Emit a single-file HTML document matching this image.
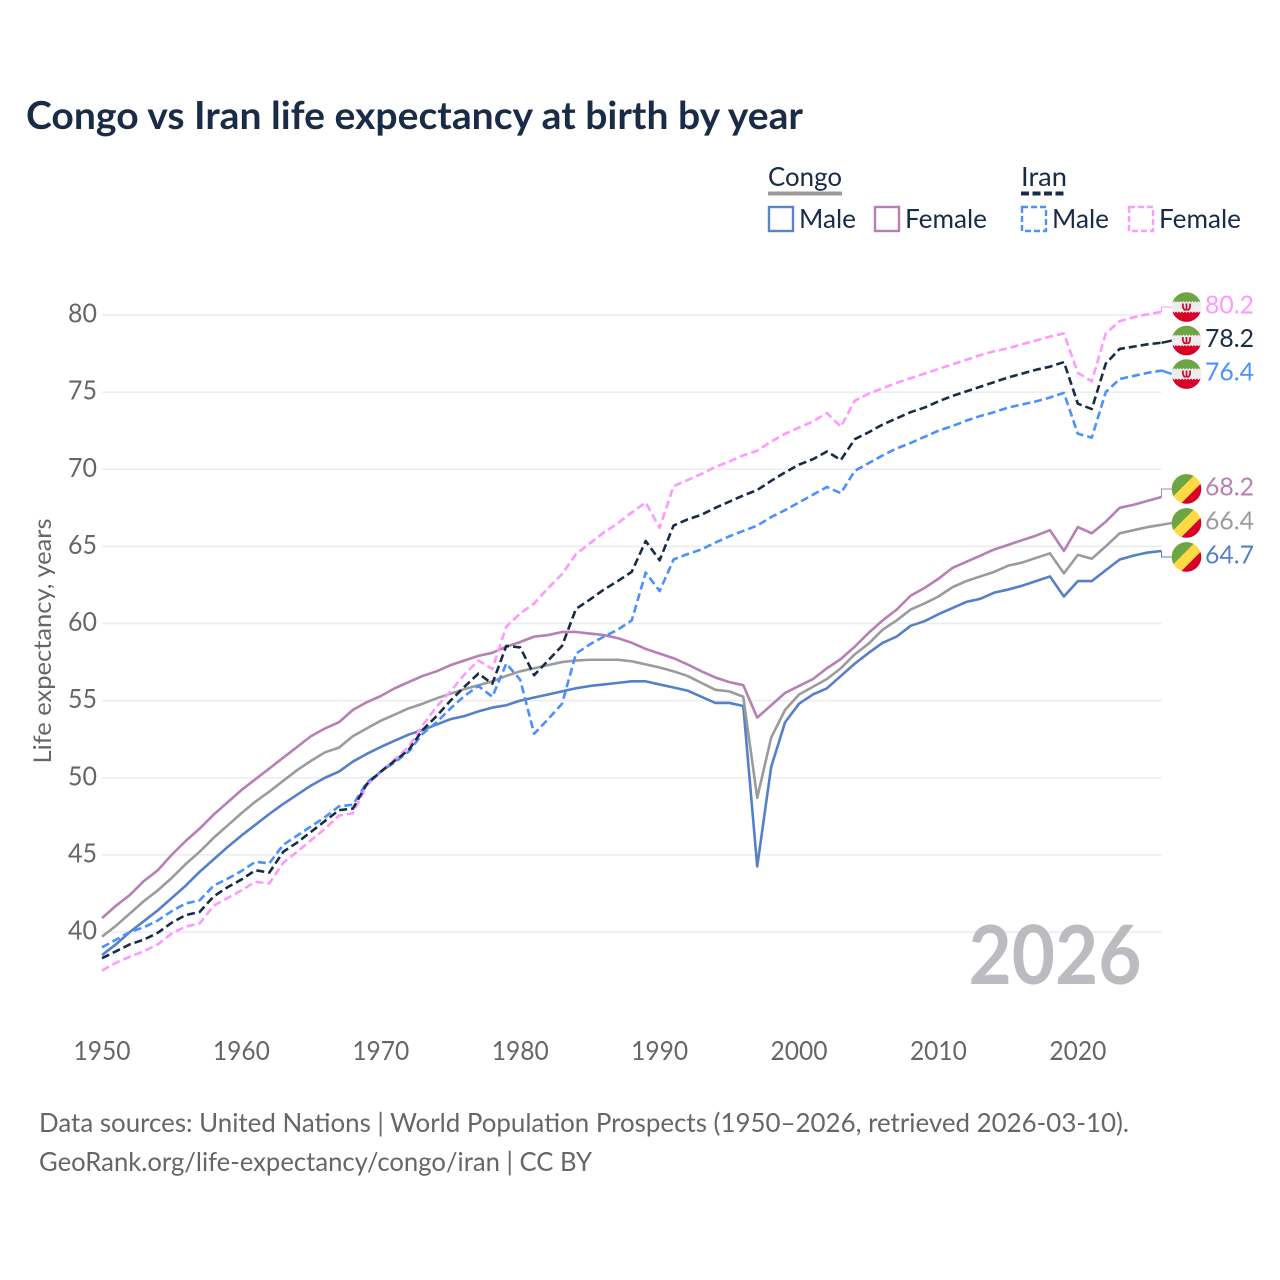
<!DOCTYPE html>
<html lang="en">
<head>
<meta charset="utf-8">
<title>Congo vs Iran life expectancy at birth by year</title>
<style>
html,body{margin:0;padding:0;background:#fff;}
svg{display:block;}
text{font-family:"Lato","Carlito","Liberation Sans",sans-serif;}
</style>
</head>
<body>
<svg id="chart" xmlns="http://www.w3.org/2000/svg" width="1280" height="1280" viewBox="0 0 1280 1280">
  <defs>
    <clipPath id="flag-clip"><circle cx="0" cy="0" r="14.8"/></clipPath>
  </defs>
  <rect x="0" y="0" width="1280" height="1280" fill="#fff"/>
  <text x="26" y="129" font-size="38" font-weight="700" fill="#1a2b47" textLength="777" lengthAdjust="spacingAndGlyphs">Congo vs Iran life expectancy at birth by year</text>

  <g>
    <g>
      <text x="768" y="186" font-size="26" fill="#1a2b47" textLength="74" lengthAdjust="spacingAndGlyphs">Congo</text>
      <line x1="768" x2="842" y1="193.5" y2="193.5" stroke="#9b9b9b" stroke-width="4"/>
    </g>
    <g>
      <text x="1021" y="186" font-size="26" fill="#1a2b47" textLength="46" lengthAdjust="spacingAndGlyphs">Iran</text>
      <line x1="1021" x2="1066" y1="193.5" y2="193.5" stroke="#1a2b47" stroke-width="4" stroke-dasharray="8,3.5"/>
    </g>
    <g>
      <rect x="769" y="207" width="24" height="24" fill="none" stroke="#5b84c9" stroke-width="2.4"/>
      <text x="799" y="228" font-size="26" fill="#1a2b47" textLength="57" lengthAdjust="spacingAndGlyphs">Male</text>
    </g>
    <g>
      <rect x="875" y="207" width="24" height="24" fill="none" stroke="#b77fb5" stroke-width="2.4"/>
      <text x="905" y="228" font-size="26" fill="#1a2b47" textLength="82" lengthAdjust="spacingAndGlyphs">Female</text>
    </g>
    <g>
      <rect x="1022" y="207" width="24" height="24" fill="none" stroke="#4a90ff" stroke-width="2.4" stroke-dasharray="6,3"/>
      <text x="1052" y="228" font-size="26" fill="#1a2b47" textLength="57" lengthAdjust="spacingAndGlyphs">Male</text>
    </g>
    <g>
      <rect x="1129" y="207" width="24" height="24" fill="none" stroke="#ff99ff" stroke-width="2.4" stroke-dasharray="6,3"/>
      <text x="1159" y="228" font-size="26" fill="#1a2b47" textLength="82" lengthAdjust="spacingAndGlyphs">Female</text>
    </g>
  </g>

  <g id="grid"></g>
  <g id="y-axis"></g>
  <g id="x-axis"></g>
  <text transform="translate(51,641) rotate(-90)" text-anchor="middle" font-size="24" fill="#666" textLength="245" lengthAdjust="spacingAndGlyphs">Life expectancy, years</text>
  <text x="968.5" y="984" font-size="81" font-weight="700" fill="#bcbcc0" textLength="173" lengthAdjust="spacingAndGlyphs">2026</text>
  <g id="series"></g>
  <g id="end-labels"></g>

  <text x="39" y="1132" font-size="26" fill="#666" textLength="1090" lengthAdjust="spacingAndGlyphs">Data sources: United Nations | World Population Prospects (1950–2026, retrieved 2026-03-10).</text>
  <text x="39" y="1171" font-size="26" fill="#666" textLength="553" lengthAdjust="spacingAndGlyphs">GeoRank.org/life-expectancy/congo/iran | CC BY</text>
</svg>

<script>
const startYear = 1950;
const endYear = 2026;
const yTicks = [40, 45, 50, 55, 60, 65, 70, 75, 80];
const xTicks = [1950, 1960, 1970, 1980, 1990, 2000, 2010, 2020];

const congoMale = [38.5,39.2,40.0,40.7,41.4,42.2,43.0,43.9,44.7,45.5,46.25,46.95,47.65,48.3,48.9,49.5,50.0,50.4,51.05,51.55,52.0,52.4,52.8,53.1,53.45,53.8,54.0,54.3,54.55,54.7,55.0,55.2,55.4,55.6,55.8,55.95,56.05,56.15,56.25,56.25,56.05,55.85,55.65,55.25,54.85,54.85,54.65,44.25,50.7,53.6,54.8,55.4,55.8,56.6,57.4,58.1,58.75,59.15,59.85,60.15,60.6,61.0,61.4,61.6,62.0,62.2,62.45,62.75,63.05,61.75,62.75,62.75,63.45,64.15,64.4,64.6,64.7];
const congoFemale = [40.9,41.7,42.4,43.3,44.0,45.0,45.9,46.7,47.6,48.4,49.2,49.9,50.6,51.3,52.0,52.7,53.2,53.6,54.4,54.9,55.3,55.8,56.2,56.6,56.9,57.3,57.6,57.9,58.1,58.5,58.8,59.15,59.25,59.45,59.45,59.35,59.25,59.05,58.75,58.35,58.05,57.75,57.35,56.9,56.5,56.2,56.0,53.9,54.7,55.5,55.95,56.4,57.1,57.7,58.5,59.4,60.2,60.9,61.8,62.3,62.9,63.6,64.0,64.4,64.8,65.1,65.4,65.7,66.05,64.7,66.25,65.85,66.6,67.5,67.7,67.95,68.2];
const congoBoth = [39.7,40.4,41.2,42.0,42.7,43.5,44.4,45.2,46.1,46.9,47.7,48.45,49.1,49.8,50.5,51.1,51.65,51.95,52.7,53.2,53.7,54.1,54.5,54.8,55.15,55.45,55.75,56.0,56.25,56.6,56.9,57.1,57.3,57.5,57.6,57.65,57.65,57.65,57.55,57.35,57.15,56.9,56.6,56.15,55.7,55.6,55.25,48.7,52.6,54.4,55.4,55.9,56.4,57.1,58.0,58.7,59.6,60.2,60.9,61.3,61.75,62.35,62.75,63.05,63.35,63.75,63.95,64.25,64.55,63.25,64.45,64.2,65.0,65.85,66.05,66.25,66.4];
const iranMale = [39.0,39.5,40.0,40.3,40.75,41.35,41.85,42.05,43.0,43.45,43.95,44.55,44.45,45.65,46.25,46.85,47.45,48.15,48.25,49.7,50.4,51.0,51.7,52.85,53.6,54.5,55.3,55.95,55.25,57.4,56.35,52.85,53.8,54.8,58.05,58.65,59.15,59.6,60.2,63.3,62.1,64.15,64.5,64.8,65.25,65.65,66.0,66.35,66.9,67.35,67.85,68.35,68.85,68.45,69.9,70.4,70.9,71.35,71.7,72.1,72.5,72.8,73.15,73.45,73.7,74.0,74.2,74.4,74.65,74.95,72.3,72.05,75.0,75.85,76.05,76.25,76.4];
const iranFemale = [37.5,38.0,38.4,38.75,39.2,39.9,40.35,40.55,41.7,42.2,42.7,43.25,43.15,44.5,45.2,45.95,46.7,47.55,47.7,49.5,50.4,51.2,52.0,53.4,54.6,55.6,56.7,57.6,57.05,59.8,60.65,61.3,62.3,63.2,64.5,65.2,65.9,66.5,67.2,67.85,66.2,68.9,69.3,69.7,70.15,70.5,70.9,71.2,71.8,72.3,72.7,73.1,73.65,72.75,74.45,74.9,75.25,75.6,75.9,76.2,76.5,76.8,77.1,77.4,77.65,77.85,78.1,78.35,78.6,78.8,76.25,75.7,78.8,79.6,79.85,80.05,80.2];
const iranBoth = [38.3,38.75,39.2,39.5,39.95,40.6,41.1,41.3,42.3,42.9,43.4,44.0,43.85,45.2,45.8,46.5,47.2,47.9,48.0,49.6,50.4,51.1,51.8,53.1,54.0,55.0,55.9,56.75,56.1,58.55,58.45,56.65,57.6,58.55,60.95,61.55,62.2,62.75,63.35,65.35,64.1,66.35,66.75,67.05,67.5,67.9,68.3,68.65,69.25,69.8,70.3,70.65,71.15,70.6,71.95,72.4,72.9,73.3,73.7,74.0,74.4,74.75,75.05,75.35,75.65,75.95,76.2,76.45,76.65,76.95,74.25,73.9,76.85,77.8,77.95,78.1,78.2];

const NS = 'http://www.w3.org/2000/svg';
function x(year){ return 102 + (year - startYear) * (1161.5 - 102) / (endYear - startYear); }
function y(value){ return 932 - (value - 40) * 15.425; }
function make(tag, parent){
  const el = document.createElementNS(NS, tag);
  parent.appendChild(el);
  return el;
}

const grid = document.getElementById('grid');
const yAxis = document.getElementById('y-axis');
const xAxis = document.getElementById('x-axis');
const seriesLayer = document.getElementById('series');
const labelLayer = document.getElementById('end-labels');

yTicks.forEach(function(t){
  const g = make('line', grid);
  
  
  g.setAttribute('x1', 102);
  g.setAttribute('x2', 1161.5);
  g.setAttribute('y1', y(t));
  g.setAttribute('y2', y(t));
  g.setAttribute('stroke', '#ececee');
  g.setAttribute('stroke-width', '1.5');
  const l = make('text', yAxis);
  
  
  l.setAttribute('x', 97);
  l.setAttribute('y', y(t) + 7.5);
  l.setAttribute('text-anchor', 'end');
  l.setAttribute('font-size', '26');
  l.setAttribute('fill', '#666');
  l.setAttribute('textLength', '29');
  l.setAttribute('lengthAdjust', 'spacingAndGlyphs');
  l.textContent = t;
});

xTicks.forEach(function(t){
  const l = make('text', xAxis);
  
  
  l.setAttribute('x', x(t));
  l.setAttribute('y', 1060);
  l.setAttribute('text-anchor', 'middle');
  l.setAttribute('font-size', '26');
  l.setAttribute('fill', '#666');
  l.setAttribute('textLength', '57');
  l.setAttribute('lengthAdjust', 'spacingAndGlyphs');
  l.textContent = t;
});

function drawLine(values, color, dash, name){
  const p = make('polyline', seriesLayer);
  
  
  p.setAttribute('points', values.map(function(v, i){ return x(startYear + i).toFixed(2) + ',' + y(v).toFixed(2); }).join(' '));
  p.setAttribute('fill', 'none');
  p.setAttribute('stroke', color);
  p.setAttribute('stroke-width', '2.6');
  p.setAttribute('stroke-linejoin', 'round');
  if (dash) p.setAttribute('stroke-dasharray', dash);
}

drawLine(congoMale, '#5580c8', null, 'congo-male-line');
drawLine(congoFemale, '#b77fb5', null, 'congo-female-line');
drawLine(congoBoth, '#9b9b9b', null, 'congo-both-line');
drawLine(iranFemale, '#ff99ff', '8,4', 'iran-female-line');
drawLine(iranMale, '#4a90ff', '8,4', 'iran-male-line');
drawLine(iranBoth, '#1a2b47', '8,4', 'iran-both-line');

function drawIranFlag(cy){
  const f = make('g', labelLayer);
  
  
  f.setAttribute('transform', 'translate(1186.5,' + cy + ')');
  f.setAttribute('clip-path', 'url(#flag-clip)');
  const w = make('rect', f);
  w.setAttribute('x', -15); w.setAttribute('y', -15); w.setAttribute('width', 30); w.setAttribute('height', 30);
  w.setAttribute('fill', '#eeeeee');
  const g = make('path', f);
  g.setAttribute('d', 'M-15,-15H15V-6l-1.5,1.5-1.5,-1.5-1.5,1.5-1.5,-1.5-1.5,1.5-1.5,-1.5-1.5,1.5-1.5,-1.5-1.5,1.5-1.5,-1.5-1.5,1.5-1.5,-1.5-1.5,1.5-1.5,-1.5-1.5,1.5-1.5,-1.5-1.5,1.5-1.5,-1.5-1.5,1.5-1.5,-1.5z');
  g.setAttribute('fill', '#6da544');
  const r = make('path', f);
  r.setAttribute('d', 'M-15,15H15V6l-1.5,-1.5-1.5,1.5-1.5,-1.5-1.5,1.5-1.5,-1.5-1.5,1.5-1.5,-1.5-1.5,1.5-1.5,-1.5-1.5,1.5-1.5,-1.5-1.5,1.5-1.5,-1.5-1.5,1.5-1.5,-1.5-1.5,1.5-1.5,-1.5-1.5,1.5-1.5,-1.5-1.5,1.5z');
  r.setAttribute('fill', '#d80027');
  const e = make('path', f);
  e.setAttribute('d', 'M-3.6,-3.5Q-4,2.5 -1,3M3.6,-3.5Q4,2.5 1,3M0,-3.5V3.5');
  e.setAttribute('fill', 'none');
  e.setAttribute('stroke', '#d80027');
  e.setAttribute('stroke-width', '1.7');
}

function drawCongoFlag(cy){
  const f = make('g', labelLayer);
  
  
  f.setAttribute('transform', 'translate(1186.5,' + cy + ')');
  f.setAttribute('clip-path', 'url(#flag-clip)');
  const y0 = make('rect', f);
  y0.setAttribute('x', -15); y0.setAttribute('y', -15); y0.setAttribute('width', 30); y0.setAttribute('height', 30);
  y0.setAttribute('fill', '#ffda44');
  const g = make('polygon', f);
  g.setAttribute('points', '-15,-15 9,-15 -15,9');
  g.setAttribute('fill', '#6da544');
  const r = make('polygon', f);
  r.setAttribute('points', '15,15 -6,15 15,-6');
  r.setAttribute('fill', '#d80027');
}

function drawEndLabel(values, color, drawFlag, labelY, name){
  const end = values[values.length - 1];
  const lx = x(endYear);
  const leader = make('polyline', labelLayer);
  
  
  if (Math.abs(y(end) - labelY) < 4) {
    leader.setAttribute('points', lx + ',' + y(end) + ' 1172,' + labelY);
    leader.setAttribute('stroke-width', '2.4');
  } else {
    leader.setAttribute('points', lx + ',' + y(end) + ' ' + lx + ',' + labelY + ' 1172,' + labelY);
    leader.setAttribute('stroke-width', '1');
  }
  leader.setAttribute('fill', 'none');
  leader.setAttribute('stroke', color);
  drawFlag(labelY);
  const t = make('text', labelLayer);
  
  
  t.setAttribute('x', 1205);
  t.setAttribute('y', labelY + 6.5);
  t.setAttribute('font-size', '25.5');
  t.setAttribute('fill', color);
  t.setAttribute('textLength', '49');
  t.setAttribute('lengthAdjust', 'spacingAndGlyphs');
  t.textContent = end.toFixed(1);
}

function groupCentre(a, b, c){
  return (y(a[a.length - 1]) + y(b[b.length - 1]) + y(c[c.length - 1])) / 3;
}
const iranCentre = groupCentre(iranFemale, iranBoth, iranMale) - 1.2;
const congoCentre = groupCentre(congoFemale, congoBoth, congoMale) - 1.3;

drawEndLabel(iranFemale, '#ff99ff', drawIranFlag, iranCentre - 33.5, 'iran-female');
drawEndLabel(iranBoth, '#1a2b47', drawIranFlag, iranCentre, 'iran-both');
drawEndLabel(iranMale, '#4a90ff', drawIranFlag, iranCentre + 33.5, 'iran-male');
drawEndLabel(congoFemale, '#b77fb5', drawCongoFlag, congoCentre - 34, 'congo-female');
drawEndLabel(congoBoth, '#9b9b9b', drawCongoFlag, congoCentre, 'congo-both');
drawEndLabel(congoMale, '#5580c8', drawCongoFlag, congoCentre + 34, 'congo-male');
</script>
</body>
</html>
